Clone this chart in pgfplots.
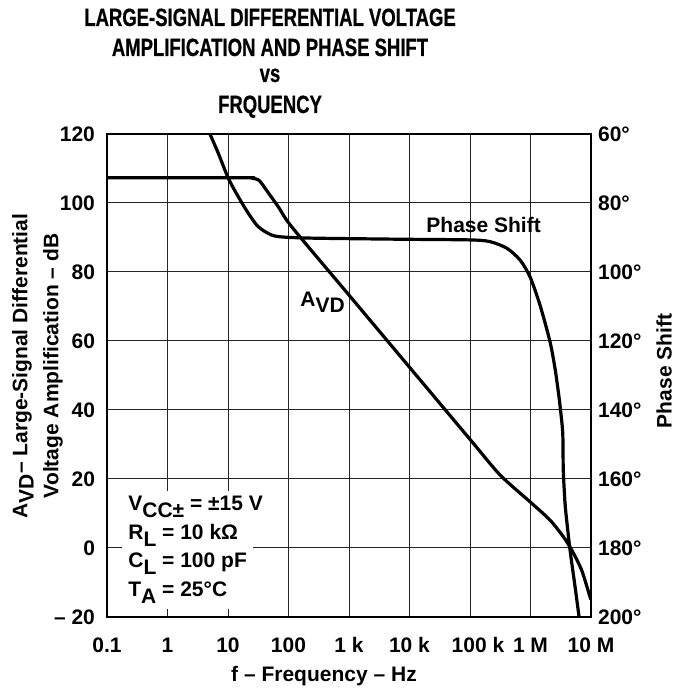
\documentclass[border=0pt]{standalone}
\usepackage{fontspec}
\setmainfont{Liberation Sans}
\newfontfamily\titlefont[FakeStretch=0.74,FakeBold=0.6]{Liberation Sans}
\usepackage{pgfplots}
\pgfplotsset{compat=1.18}

\newcommand{\lbl}{\fontsize{10.5}{12}\selectfont\bfseries}

\begin{document}
\begin{tikzpicture}
\useasboundingbox (-53.5pt,-36pt) rectangle (283.5pt,308.5pt);

% gain axis (left)
\begin{axis}[
  at={(0,0)}, anchor=south west,
  scale only axis, width=242pt, height=241.5pt,
  xmode=log, xmin=0.1, xmax=1e7,
  ymin=-20, ymax=120,
  xtick={0.1,1,10,100,1000,10000,100000,1000000,10000000},
  xticklabels={0.1,1,10,100,1 k,10 k,\kern8pt 100 k,1 M,10 M},
  xminorticks=false,
  ytick={-20,0,20,40,60,80,100,120},
  yticklabels={– 20,0,20,40,60,80,100,120},
  major tick length=0pt,
  grid=major,
  grid style={line width=0.5pt, black!85},
  axis line style={line width=1.1pt},
  tick label style={font=\lbl},
  xticklabel style={anchor=base, yshift=-17.5pt},
  yticklabel style={xshift=-2.5pt},
]
\addplot[line width=1.6pt, line join=round, smooth, tension=0.45] coordinates {
  (0.1,107.3) (20,107.3) (23.1,107.3) (27,107.1) (31.7,106.7) (36,105.7)
  (40.9,104.3) (67.8,98.9) (113,93.1) (1000,73.3) (10000,52.4)
  (100000,31.5) (313000,21.2) (1047000,12.96) (2100000,8.1)
  (3480000,3.3) (4800000,-0.58) (7000000,-6.4) (9600000,-14.1) (10000000,-14.8)
};
\end{axis}

% phase axis (right)
\begin{axis}[
  at={(0,0)}, anchor=south west,
  scale only axis, width=242pt, height=241.5pt,
  xmode=log, xmin=0.1, xmax=1e7,
  ymin=60, ymax=200, y dir=reverse,
  axis x line=none, axis y line*=right,
  ytick={60,80,100,120,140,160,180,200},
  yticklabels={60°,80°,100°,120°,140°,160°,180°,200°},
  major tick length=0pt,
  axis line style={line width=1.1pt},
  tick label style={font=\lbl},
]
\addplot[line width=1.6pt, line join=round, smooth, tension=0.45] coordinates {
  (5.03,60) (6.92,65.6) (10.1,72.8) (14.8,78.2) (21.7,83.0) (31.7,86.9)
  (52.7,89.3) (87.5,89.9) (274,90.2) (6970,90.5) (100000,90.7) (214000,91.2)
  (405000,93.1) (670000,96.5) (982000,101.4) (1436000,109.6) (2100000,120.2)
  (2540000,127.9) (2880000,134.7) (3070000,138.6) (3410000,146.7)
  (3480000,157.4) (3720000,167.0) (3960000,171.9) (4500000,180.6)
  (5450000,191.2) (6340000,199.9) (6400000,200.5)
};
\end{axis}

% curve labels
\node[font=\lbl, anchor=base] at (188.3pt,192.2pt) {Phase Shift};
\node[font=\lbl, anchor=base west, inner sep=0pt] at (96.5pt,155.2pt)
  {A\raisebox{-0.3em}{VD}};

% conditions
\begin{scope}[every node/.style={font=\lbl, fill=white, anchor=base west, inner sep=3pt}]
\node at (7.5pt,53pt) {V\raisebox{-0.3em}{CC±} = ±15 V};
\node at (7.5pt,38.5pt) {R\raisebox{-0.3em}{L} = 10 kΩ};
\node at (7.5pt,24.5pt) {C\raisebox{-0.3em}{L} = 100 pF};
\node at (7.5pt,10pt) {T\raisebox{-0.3em}{A} = 25°C};
\end{scope}

% axis titles
\node[font=\fontsize{10.5}{15.5}\selectfont\bfseries, rotate=90, align=center]
  at (-34.75pt,125.5pt)
  {A\raisebox{-0.3em}{VD}– Large-Signal Differential\\Voltage Amplification – dB};
\node[font=\lbl, rotate=90] at (278.5pt,123pt) {Phase Shift};
\node[font=\lbl, anchor=base] at (108.5pt,-32.5pt) {f – Frequency – Hz};

% title
\begin{scope}[every node/.style={font=\titlefont\fontsize{12.5}{14}\selectfont\bfseries, anchor=base, inner sep=0pt}]
\node at (81.5pt,295.5pt) {LARGE-SIGNAL DIFFERENTIAL VOLTAGE};
\node at (81.5pt,280.5pt) {AMPLIFICATION AND PHASE SHIFT};
\node at (81.5pt,267.5pt) {vs};
\node at (81.5pt,252pt) {FRQUENCY};
\end{scope}
\end{tikzpicture}
\end{document}
